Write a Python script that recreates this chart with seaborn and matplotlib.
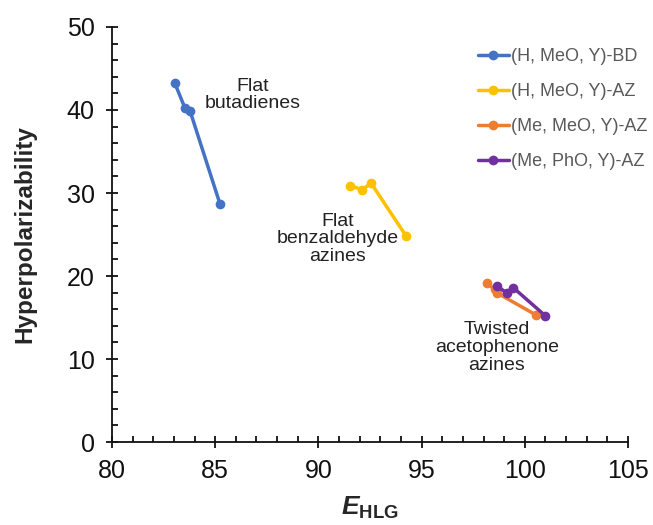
"""Hyperpolarizability vs E_HLG scatter-line chart."""

import matplotlib.pyplot as plt
import numpy as np
import pandas as pd
import seaborn as sns
from matplotlib.ticker import MultipleLocator

# series data
series_names = ["(H, MeO, Y)-BD", "(H, MeO, Y)-AZ", "(Me, MeO, Y)-AZ", "(Me, PhO, Y)-AZ"]
bd_x = [83.05, 83.54, 83.78, 85.23]
bd_y = [43.2, 40.2, 39.9, 28.7]
az_h_x = [91.53, 92.13, 92.55, 94.24]
az_h_y = [30.9, 30.4, 31.2, 24.85]
az_me_x = [98.15, 98.55, 98.63, 100.55]
az_me_y = [19.1, 18.4, 18.0, 15.3]
az_pho_x = [98.63, 99.12, 99.44, 101.0]
az_pho_y = [18.8, 18.0, 18.6, 15.2]
colors = ["#4472C4", "#FFC000", "#ED7D31", "#7030A0"]

group_labels = ["Flat\nbutadienes", "Flat\nbenzaldehyde\nazines", "Twisted\nacetophenone\nazines"]
group_x = [86.8, 90.95, 98.65]
group_y = [41.8, 24.5, 11.4]

xs = [bd_x, az_h_x, az_me_x, az_pho_x]
ys = [bd_y, az_h_y, az_me_y, az_pho_y]
df = pd.concat(
    [pd.DataFrame({"EHLG": x, "beta": y, "series": name, "order": np.arange(len(x))})
     for name, x, y in zip(series_names, xs, ys)],
    ignore_index=True,
)

sns.set_style("ticks")
plt.rcParams["font.family"] = ["Liberation Sans", "DejaVu Sans"]
plt.rcParams["mathtext.fontset"] = "custom"
plt.rcParams["mathtext.rm"] = "Liberation Sans"
plt.rcParams["mathtext.bf"] = "Liberation Sans:bold"
plt.rcParams["mathtext.bfit"] = "Liberation Sans:italic:bold"

fig = plt.figure(figsize=(6.53, 5.25), dpi=100)
ax = fig.add_axes([0.1715, 0.158, 0.7902, 0.7906])

sns.lineplot(
    data=df, x="EHLG", y="beta", hue="series", hue_order=series_names,
    palette=colors, marker="o", markersize=7, markeredgewidth=0,
    linewidth=2.5, sort=False, estimator=None, ax=ax,
)

ax.set_xlim(80, 105)
ax.set_ylim(0, 50)
ax.xaxis.set_major_locator(MultipleLocator(5))
ax.xaxis.set_minor_locator(MultipleLocator(1))
ax.yaxis.set_major_locator(MultipleLocator(10))
ax.yaxis.set_minor_locator(MultipleLocator(2))
ax.tick_params(which="major", direction="inout", length=9, width=1.3,
               labelsize=18, colors="#111111", pad=8)
ax.tick_params(which="minor", direction="in", length=4.5, width=1.3, colors="#111111")
sns.despine(ax=ax)
for side in ["left", "bottom"]:
    ax.spines[side].set_linewidth(1.3)
    ax.spines[side].set_color("#111111")

ax.set_ylabel("Hyperpolarizability", fontsize=17.5, fontweight="bold", labelpad=22)
ax.set_xlabel(r"$\mathbfit{E}_{\mathbf{HLG}}$", fontsize=19, labelpad=8)

for label, x, y in zip(group_labels, group_x, group_y):
    ax.text(x, y, label, ha="center", va="center", fontsize=14,
            color="#222222", linespacing=1.05)

leg = ax.legend(
    loc="upper left", bbox_to_anchor=(0.732, 0.908), bbox_transform=fig.transFigure,
    frameon=False, fontsize=13, handlelength=1.7, handletextpad=0.15,
    labelspacing=1.0, borderpad=0, borderaxespad=0,
)
for text in leg.get_texts():
    text.set_color("#595959")

fig.savefig("out.png", dpi=100)
plt.close(fig)
